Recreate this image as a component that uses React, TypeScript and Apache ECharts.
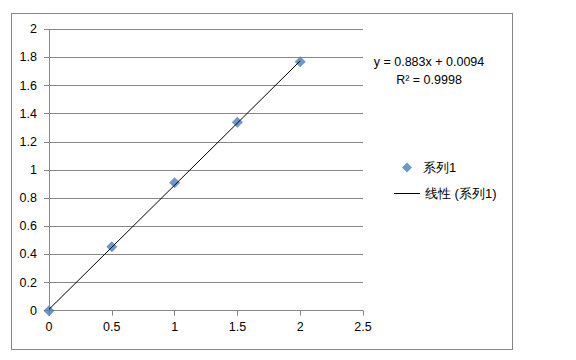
import React, { useEffect, useRef } from "react";
import * as echarts from "echarts";

const xValues = [0, 0.5, 1, 1.5, 2];
const yValues = [0, 0.455, 0.91, 1.34, 1.77];
const seriesName = "系列1";
const trendName = "线性 (系列1)";
const slope = 0.883;
const intercept = 0.0094;
const trendRange = [0, 2];
const equationText = "y = 0.883x + 0.0094";
const r2Text = "R² = 0.9998";

const FONT = "'Liberation Sans', Arial, sans-serif";

export default function App() {
  const ref = useRef<HTMLDivElement>(null);
  useEffect(() => {
    document.body.style.margin = "0";
    if (!ref.current) return;
    const chart = echarts.init(ref.current, undefined, { renderer: "svg" });
    const points = xValues.map((x, i) => [x, yValues[i]]);
    const trend = trendRange.map((x) => [x, slope * x + intercept]);
    chart.setOption({
      animation: false,
      backgroundColor: "#ffffff",
      textStyle: { fontFamily: FONT },
      grid: { left: 49, right: 213, top: 29.3, bottom: 49.3, containLabel: false },
      xAxis: {
        type: "value",
        min: 0,
        max: 2.5,
        interval: 0.5,
        axisLine: { show: true, lineStyle: { color: "#868686", width: 1 } },
        axisTick: { show: true, inside: false, length: 5, lineStyle: { color: "#868686" } },
        axisLabel: { color: "#000", fontSize: 12.5, margin: 10, fontFamily: FONT },
        splitLine: { show: false },
      },
      yAxis: {
        type: "value",
        min: 0,
        max: 2,
        interval: 0.2,
        axisLine: { show: true, lineStyle: { color: "#868686", width: 1 } },
        axisTick: { show: true, inside: false, length: 5, lineStyle: { color: "#868686" } },
        axisLabel: {
          color: "#000",
          fontSize: 12.5,
          margin: 12,
          fontFamily: FONT,
          formatter: (v: number) => String(Math.round(v * 10) / 10),
        },
        splitLine: { show: true, lineStyle: { color: "#868686", width: 1 } },
      },
      legend: [
        {
          data: [{ name: seriesName, icon: "diamond" }],
          orient: "vertical",
          left: 402,
          top: 161,
          padding: 0,
          itemWidth: 10,
          itemHeight: 10,
          textStyle: { fontSize: 13, color: "#000", fontFamily: FONT, padding: [0, 0, 0, 6] },
        },
        {
          data: [{ name: trendName, icon: "rect", itemStyle: { color: "#000" } }],
          orient: "vertical",
          left: 394,
          top: 187,
          padding: 0,
          itemWidth: 26,
          itemHeight: 1,
          textStyle: { fontSize: 13, color: "#000", fontFamily: FONT },
        },
      ],
      graphic: [
        {
          type: "text",
          x: 429,
          y: 62,
          style: {
            text: equationText,
            fontSize: 12.5,
            fontFamily: FONT,
            fill: "#000",
            align: "center",
            verticalAlign: "middle",
          },
        },
        {
          type: "text",
          x: 429,
          y: 80,
          style: {
            text: r2Text,
            fontSize: 12.5,
            fontFamily: FONT,
            fill: "#000",
            align: "center",
            verticalAlign: "middle",
          },
        },
      ],
      series: [
        {
          name: trendName,
          type: "line",
          data: trend,
          symbol: "none",
          lineStyle: { color: "#000", width: 1 },
          itemStyle: { color: "#000" },
          z: 3,
        },
        {
          name: seriesName,
          type: "scatter",
          data: points,
          symbol: "diamond",
          symbolSize: 11,
          itemStyle: { color: "#4a7ebb" },
          z: 2,
        },
      ],
    });
    return () => chart.dispose();
  }, []);
  return (
    <div style={{ position: "relative", width: 576, height: 360 }}>
      <div ref={ref} style={{ width: 576, height: 360 }} />
      <div
        style={{
          position: "absolute",
          left: 11,
          top: 13,
          width: 500,
          height: 335,
          border: "1px solid #868686",
          pointerEvents: "none",
        }}
      />
    </div>
  );
}
